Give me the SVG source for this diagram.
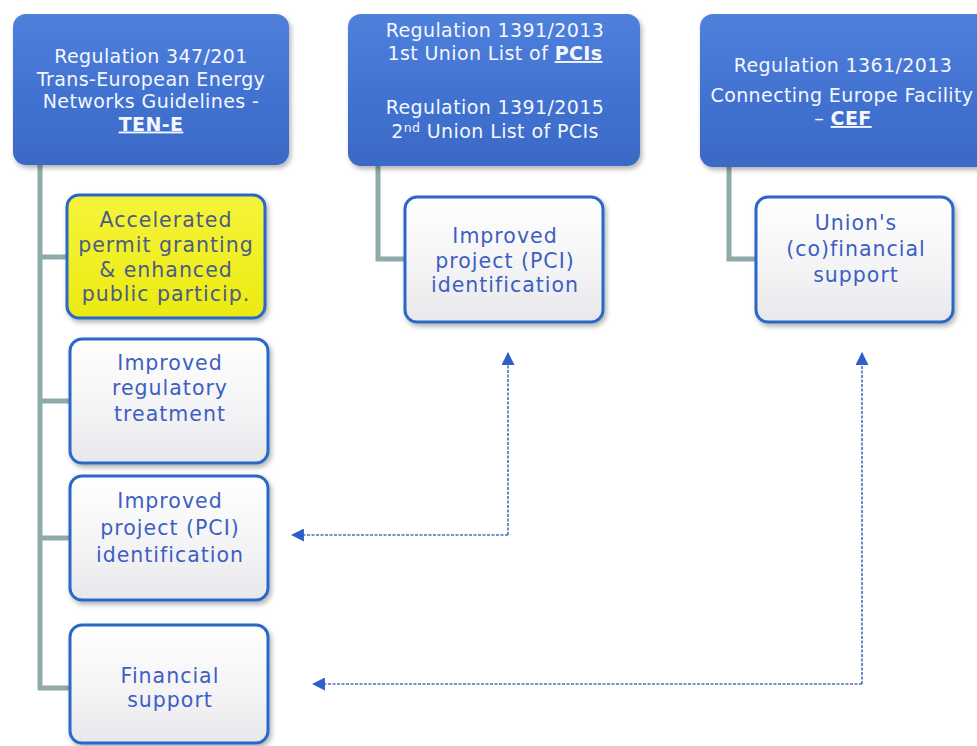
<svg xmlns="http://www.w3.org/2000/svg" width="977" height="746" viewBox="0 0 977 746">
  <defs>
    <linearGradient id="gBlue" x1="0" y1="0" x2="0" y2="1">
      <stop offset="0" stop-color="#4f80dc"/>
      <stop offset="0.5" stop-color="#4373d2"/>
      <stop offset="1" stop-color="#3b69c6"/>
    </linearGradient>
    <linearGradient id="gWhite" x1="0" y1="0" x2="0" y2="1">
      <stop offset="0" stop-color="#ffffff"/>
      <stop offset="0.6" stop-color="#f3f3f5"/>
      <stop offset="1" stop-color="#e8e8ec"/>
    </linearGradient>
    <linearGradient id="gYellow" x1="0" y1="0" x2="0" y2="1">
      <stop offset="0" stop-color="#f6f43a"/>
      <stop offset="1" stop-color="#ecea12"/>
    </linearGradient>
    <filter id="shadow" x="-10%" y="-10%" width="125%" height="130%">
      <feDropShadow dx="2" dy="3" stdDeviation="2.5" flood-color="#000" flood-opacity="0.3"/>
    </filter>
    <marker id="arrow" viewBox="0 0 12 12" refX="11" refY="6" markerWidth="13" markerHeight="13" markerUnits="userSpaceOnUse" orient="auto">
      <path d="M0 0 L12 6 L0 12 Z" fill="#2f5fc8"/>
    </marker>
  </defs>
  <style>
    .reg { fill: url(#gBlue); filter: url(#shadow); }
    .card { fill: url(#gWhite); stroke: #2a68c8; stroke-width: 3; filter: url(#shadow); }
    .hl { fill: url(#gYellow); stroke: #2a68c8; stroke-width: 3; filter: url(#shadow); }
    .rt { font-family: "DejaVu Sans", Verdana, sans-serif; font-size: 19px; letter-spacing: 0.4px; fill: #f4f7ff; text-anchor: middle; }
    .ct { font-family: "DejaVu Sans", Verdana, sans-serif; font-size: 20.5px; letter-spacing: 1px; fill: #3d5fc2; text-anchor: middle; }
    .yt { fill: #4a5d86; }
    .b { font-weight: bold; text-decoration: underline; }
    .trunk { fill: none; stroke: #8eaaa9; stroke-width: 5; }
    .link { fill: none; stroke: #4a6fc0; stroke-width: 1.6; stroke-dasharray: 3 1.5; marker-end: url(#arrow); }
  </style>

  <!-- connectors -->
  <g id="connectors">
    <path class="trunk" d="M40 165 V690 M38 257 H68 M38 401 H71 M38 538 H71 M38 688 H71"/>
    <path class="trunk" d="M378 166 V259 H406"/>
    <path class="trunk" d="M729 167 V259 H757"/>
    <path class="link" d="M508 535 V353"/>
    <path class="link" d="M508 535 H292"/>
    <path class="link" d="M862 684 V353"/>
    <path class="link" d="M862 684 H313"/>
  </g>

  <!-- regulations -->
  <g id="ten-e">
    <rect class="reg" x="13" y="14" width="276" height="151" rx="13"/>
    <text class="rt" x="151" y="63">Regulation 347/201</text>
    <text class="rt" x="151" y="85.5">Trans-European Energy</text>
    <text class="rt" x="151" y="108">Networks Guidelines -</text>
    <text class="rt b" x="151" y="130.5">TEN-E</text>
  </g>
  <g id="pci-lists">
    <rect class="reg" x="348" y="14" width="292" height="152" rx="13"/>
    <text class="rt" x="495" y="37">Regulation 1391/2013</text>
    <text class="rt" x="495" y="60">1st Union List of <tspan class="b">PCIs</tspan></text>
    <text class="rt" x="495" y="114">Regulation 1391/2015</text>
    <text class="rt" x="495" y="137.5">2<tspan font-size="12.5" dy="-6">nd</tspan><tspan dy="6"> Union List of PCIs</tspan></text>
  </g>
  <g id="cef">
    <rect class="reg" x="700" y="14" width="300" height="153" rx="13"/>
    <text class="rt" x="843" y="72">Regulation 1361/2013</text>
    <text class="rt" x="842" y="102">Connecting Europe Facility</text>
    <text class="rt" x="843" y="125">– <tspan class="b">CEF</tspan></text>
  </g>

  <!-- TEN-E measures -->
  <g id="permit">
    <rect class="hl" x="67" y="195" width="198" height="123" rx="12"/>
    <text class="ct yt" x="166" y="227">Accelerated</text>
    <text class="ct yt" x="166" y="252">permit granting</text>
    <text class="ct yt" x="166" y="277">&amp; enhanced</text>
    <text class="ct yt" x="166" y="301">public particip.</text>
  </g>
  <g id="regulatory">
    <rect class="card" x="70" y="339" width="198" height="124" rx="12"/>
    <text class="ct" x="170" y="370">Improved</text>
    <text class="ct" x="170" y="395">regulatory</text>
    <text class="ct" x="170" y="421">treatment</text>
  </g>
  <g id="identification">
    <rect class="card" x="70" y="476" width="198" height="124" rx="12"/>
    <text class="ct" x="170" y="508">Improved</text>
    <text class="ct" x="170" y="535">project (PCI)</text>
    <text class="ct" x="170" y="562">identification</text>
  </g>
  <g id="financial">
    <rect class="card" x="70" y="625" width="198" height="118" rx="12"/>
    <text class="ct" x="170" y="683">Financial</text>
    <text class="ct" x="170" y="707">support</text>
  </g>

  <!-- PCI list outcome -->
  <g id="pci-identification">
    <rect class="card" x="405" y="197" width="198" height="125" rx="12"/>
    <text class="ct" x="505" y="243">Improved</text>
    <text class="ct" x="505" y="268">project (PCI)</text>
    <text class="ct" x="505" y="292">identification</text>
  </g>

  <!-- CEF outcome -->
  <g id="union-support">
    <rect class="card" x="756" y="197" width="197" height="125" rx="12"/>
    <text class="ct" x="856" y="230">Union's</text>
    <text class="ct" x="856" y="256">(co)financial</text>
    <text class="ct" x="856" y="282">support</text>
  </g>
</svg>
